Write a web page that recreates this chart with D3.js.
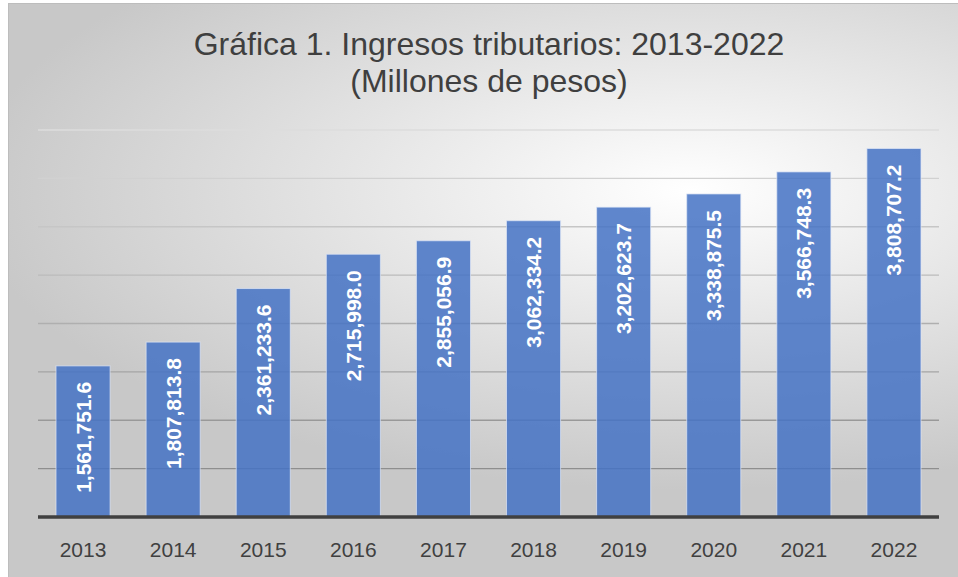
<!DOCTYPE html>
<html lang="es">
<head>
    <meta charset="UTF-8">
    <title>Ingresos tributarios</title>
    <script src="https://d3js.org/d3.v7.min.js"></script>
</head>
<style>
    body { margin: 0; background: #ffffff; }
    svg { display: block; }
    .title { font-family: "Liberation Sans", Arial, sans-serif; font-size: 32px; fill: #3f3f3f; }
    .xlab { font-family: "Liberation Sans", Arial, sans-serif; font-size: 21px; fill: #404040; }
    .vlab { font-family: "Liberation Sans", Arial, sans-serif; font-size: 21px; font-weight: bold; fill: #ffffff; }
</style>
<body>
    <svg width="958" height="577"></svg>
</body>
<script>
var years = ["2013", "2014", "2015", "2016", "2017", "2018", "2019", "2020", "2021", "2022"];
var ingresos = [1561751.6, 1807813.8, 2361233.6, 2715998.0, 2855056.9, 3062334.2, 3202623.7, 3338875.5, 3566748.3, 3808707.2];
var gridTicks = [500000, 1000000, 1500000, 2000000, 2500000, 3000000, 3500000, 4000000];

var svg = d3.select("svg");

// fondo con degradado radial (blanco al centro, gris en los bordes)
var defs = svg.append("defs");
var grad = defs.append("radialGradient")
    .attr("id", "bg")
    .attr("gradientUnits", "userSpaceOnUse")
    .attr("cx", 0).attr("cy", 0).attr("r", 1)
    .attr("gradientTransform", "translate(690,190) scale(720,300)");
grad.append("stop").attr("offset", 0).attr("stop-color", "#ffffff");
grad.append("stop").attr("offset", 1).attr("stop-color", "#c8c8c8");

svg.append("rect")
   .attr("x", 8.5).attr("y", 3.5)
   .attr("width", 960).attr("height", 580)
   .attr("fill", "url(#bg)")
   .attr("stroke", "#bdbdbd");

var x = d3.scaleBand().domain(years).range([38, 939]).paddingInner(0.4).paddingOuter(0.2);
var y = d3.scaleLinear().domain([0, 4000000]).range([517, 130]);

var gridColor = d3.scaleLinear().domain([500000, 4000000]).range(["#8e8e8e", "#dcdcdc"]);

// titulo
svg.append("text").attr("class", "title")
   .attr("x", 489).attr("y", 55).attr("text-anchor", "middle")
   .text("Gráfica 1. Ingresos tributarios: 2013-2022");
svg.append("text").attr("class", "title")
   .attr("x", 489).attr("y", 92).attr("text-anchor", "middle")
   .text("(Millones de pesos)");

// lineas de cuadricula
svg.append("g").selectAll("line")
   .data(gridTicks)
   .enter()
   .append("line")
   .attr("x1", 38).attr("x2", 939)
   .attr("y1", function(d) { return y(d); })
   .attr("y2", function(d) { return y(d); })
   .attr("stroke", function(d) { return gridColor(d); })
   .attr("stroke-width", 1.3);

// barras
svg.append("g").selectAll("rect")
   .data(ingresos)
   .enter()
   .append("rect")
   .attr("x", function(d, i) { return x(years[i]); })
   .attr("y", function(d) { return y(d); })
   .attr("width", x.bandwidth())
   .attr("height", function(d) { return y(0) - y(d); })
   .attr("fill", "#4472c4")
   .attr("fill-opacity", 0.85)
   .attr("stroke", "#dfe7f6")
   .attr("stroke-opacity", 0.7)
   .attr("stroke-width", 1);

// etiquetas de valor (verticales)
var fmt = d3.format(",.1f");
svg.append("g").selectAll("text")
   .data(ingresos)
   .enter()
   .append("text")
   .attr("class", "vlab")
   .attr("text-anchor", "end")
   .attr("dominant-baseline", "central")
   .attr("transform", function(d, i) {
       return "translate(" + (x(years[i]) + x.bandwidth() / 2) + "," + (y(d) + 16) + ") rotate(-90)";
   })
   .text(function(d) { return fmt(d); });

// eje x
var axisX = d3.axisBottom(x).tickSize(0).tickPadding(0);
var gx = svg.append("g")
   .attr("transform", "translate(0,517)")
   .call(axisX);
gx.select(".domain").remove();
gx.selectAll("text")
   .attr("class", "xlab")
   .attr("dy", null)
   .attr("y", 40)
   .attr("fill", null)
   .attr("font-size", null)
   .attr("font-family", null);

svg.append("line")
   .attr("x1", 38).attr("x2", 939)
   .attr("y1", y(0)).attr("y2", y(0))
   .attr("stroke", "#404040")
   .attr("stroke-width", 3.5);
</script>
</html>
